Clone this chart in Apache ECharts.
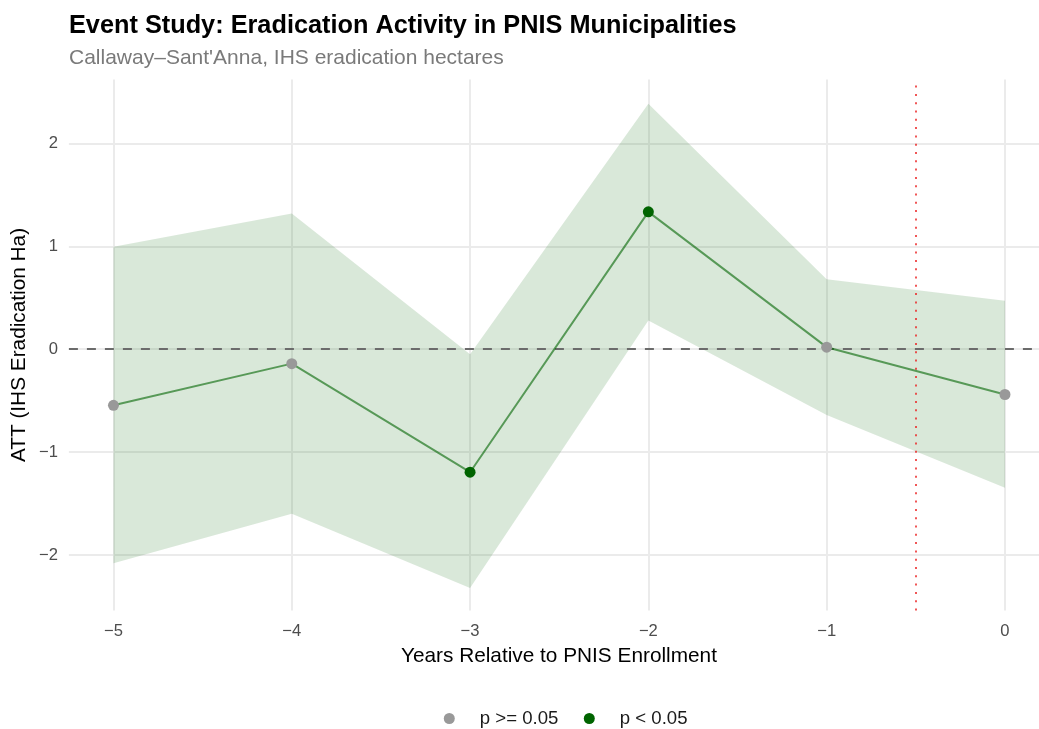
<!DOCTYPE html>
<html>
<head>
<meta charset="utf-8">
<title>Event Study: Eradication Activity in PNIS Municipalities</title>
<script src="https://cdn.jsdelivr.net/npm/echarts@6/dist/echarts.min.js"></script>
<style>
  html, body { margin: 0; padding: 0; background: #ffffff; }
  #chart { width: 1039px; height: 729px; }
</style>
</head>
<body>
<div id="chart"></div>
<script>
// Event-time estimates (Callaway–Sant'Anna ATT on IHS eradication hectares)
const years = [-5, -4, -3, -2, -1, 0];
const att = [-0.545, -0.14, -1.195, 1.335, 0.02, -0.44];
const ciLower = [-2.08, -1.60, -2.32, 0.28, -0.64, -1.345];
const ciUpper = [0.995, 1.32, -0.05, 2.385, 0.68, 0.47];
const significant = [false, false, true, true, false, false];
const groupNames = ['p >= 0.05', 'p < 0.05'];
const treatmentLine = -0.5;

const FONT = '"Liberation Sans", Arial, Helvetica, sans-serif';
const minus = v => String(v).replace('-', '\u2212');
const intLabel = v => (Math.abs(v - Math.round(v)) > 1e-9 ? '' : minus(Math.round(v)));

const pointsFor = flag => years
  .map((x, i) => [x, att[i], significant[i]])
  .filter(d => d[2] === flag)
  .map(d => [d[0], d[1]]);

const legendText = { fontFamily: FONT, fontSize: 18.6, color: '#1a1a1a', padding: [0, 0, 0, 20] };

const chart = echarts.init(document.getElementById('chart'), null, { renderer: 'canvas' });

chart.setOption({
  animation: false,
  backgroundColor: '#ffffff',
  textStyle: { fontFamily: FONT },
  title: {
    text: 'Event Study: Eradication Activity in PNIS Municipalities',
    subtext: 'Callaway\u2013Sant\'Anna, IHS eradication hectares',
    left: 69,
    top: 14,
    itemGap: 9,
    padding: 0,
    textStyle: { fontFamily: FONT, fontSize: 25.3, fontWeight: 'bold', color: '#000000' },
    subtextStyle: { fontFamily: FONT, fontSize: 21, color: '#7a7a7a' }
  },
  legend: [
    {
      data: [groupNames[0]],
      left: 443.8,
      top: 709,
      icon: 'circle',
      itemWidth: 11,
      itemHeight: 11,
      padding: 0,
      textStyle: legendText
    },
    {
      data: [groupNames[1]],
      left: 583.8,
      top: 709,
      icon: 'circle',
      itemWidth: 11,
      itemHeight: 11,
      padding: 0,
      textStyle: legendText
    }
  ],
  grid: {
    left: 68.9,
    top: 79.5,
    right: 0,
    height: 531
  },
  xAxis: {
    type: 'value',
    min: -5.25,
    max: 0.191,
    name: 'Years Relative to PNIS Enrollment',
    nameLocation: 'middle',
    nameGap: 35,
    nameTextStyle: { fontFamily: FONT, fontSize: 20.8, color: '#000000', padding: [0, 0, 0, 10] },
    axisLine: { show: false },
    axisTick: { show: false },
    axisLabel: {
      showMinLabel: false,
      showMaxLabel: false,
      margin: 12,
      fontFamily: FONT,
      fontSize: 16.6,
      color: '#4d4d4d',
      formatter: intLabel
    },
    splitLine: {
      show: true,
      showMinLine: false,
      showMaxLine: false,
      lineStyle: { color: '#ebebeb', width: 2 }
    }
  },
  yAxis: {
    type: 'value',
    min: -2.539,
    max: 2.621,
    name: 'ATT (IHS Eradication Ha)',
    nameLocation: 'middle',
    nameRotate: 90,
    nameGap: 39,
    nameMoveOverlap: false,
    nameTextStyle: { fontFamily: FONT, fontSize: 20.8, color: '#000000' },
    axisLine: { show: false },
    axisTick: { show: false },
    axisLabel: {
      showMinLabel: false,
      showMaxLabel: false,
      margin: 11,
      fontFamily: FONT,
      fontSize: 16.6,
      color: '#4d4d4d',
      formatter: intLabel
    },
    splitLine: {
      show: true,
      showMinLine: false,
      showMaxLine: false,
      lineStyle: { color: '#ebebeb', width: 2 }
    }
  },
  series: [
    {
      // confidence band
      name: 'ci',
      type: 'custom',
      silent: true,
      z: 1,
      data: years.map((x, i) => [x, ciLower[i], ciUpper[i]]),
      encode: { x: 0, y: [1, 2] },
      renderItem: (params, api) => {
        if (params.dataIndex !== 0) return null;
        const pts = [];
        for (let i = 0; i < years.length; i++) pts.push(api.coord([years[i], ciUpper[i]]));
        for (let i = years.length - 1; i >= 0; i--) pts.push(api.coord([years[i], ciLower[i]]));
        return {
          type: 'polygon',
          shape: { points: pts },
          style: { fill: 'rgba(0,100,0,0.15)' }
        };
      }
    },
    {
      // reference lines: zero effect and enrollment timing
      name: 'ref',
      type: 'line',
      data: [],
      silent: true,
      z: 3,
      markLine: {
        silent: true,
        z: 3,
        symbol: ['none', 'none'],
        label: { show: false },
        animation: false,
        data: [
          { yAxis: 0, lineStyle: { color: '#6b6b6b', width: 2, type: [9, 9] } },
          { xAxis: treatmentLine, lineStyle: { color: 'rgba(235,30,30,0.75)', width: 2, type: [2, 6.3] } }
        ]
      }
    },
    {
      name: 'att',
      type: 'line',
      data: years.map((x, i) => [x, att[i]]),
      symbol: 'none',
      silent: true,
      z: 4,
      lineStyle: { color: 'rgba(0,100,0,0.6)', width: 2 }
    },
    {
      name: groupNames[0],
      type: 'scatter',
      data: pointsFor(false),
      symbol: 'circle',
      symbolSize: 11,
      z: 5,
      itemStyle: { color: '#999999', opacity: 1 }
    },
    {
      name: groupNames[1],
      type: 'scatter',
      data: pointsFor(true),
      symbol: 'circle',
      symbolSize: 11,
      z: 5,
      itemStyle: { color: '#006400', opacity: 1 }
    }
  ]
});
</script>
</body>
</html>
